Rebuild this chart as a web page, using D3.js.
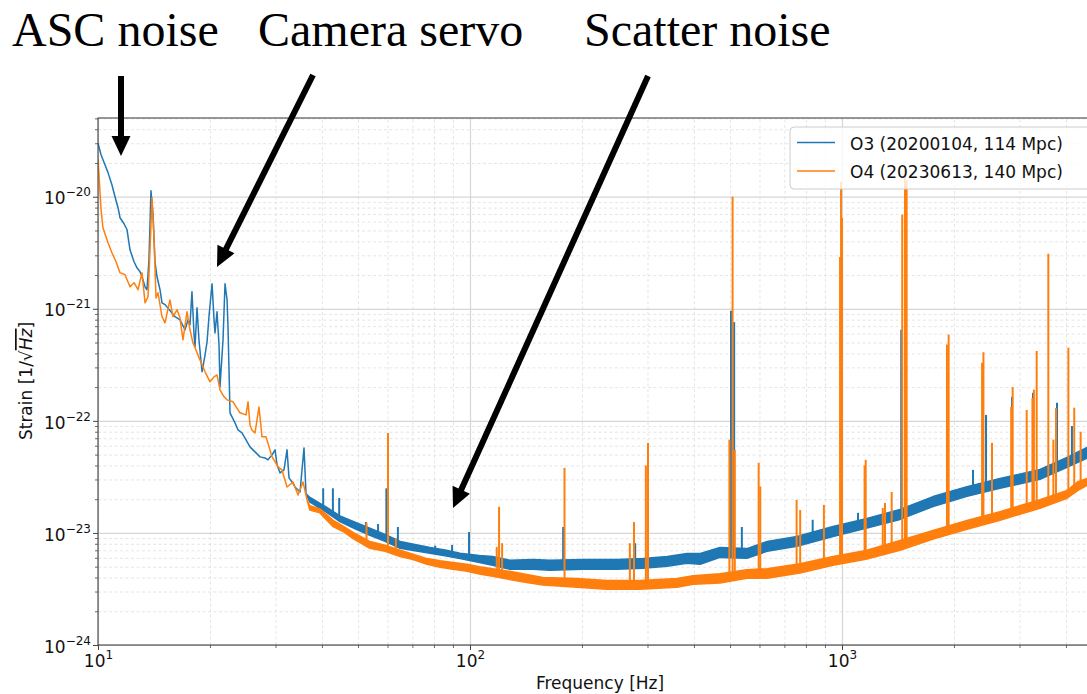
<!DOCTYPE html>
<html>
<head>
<meta charset="utf-8">
<script src="https://cdn.jsdelivr.net/npm/d3@7"></script>
<style>
  body { margin: 0; background: #fff; }
  svg { display: block; font-family: "DejaVu Sans", sans-serif; }
</style>
</head>
<body>
<svg id="chart" width="1087" height="694"></svg>
<script>
// [Hz, strain] for the traced line, [Hz, low, high] where the trace turns into a noisy band
var o3Trace = [
  [10, 3.0e-20], [10.19, 2.37e-20], [10.44, 1.93e-20], [10.64, 1.64e-20], [10.90, 1.28e-20],
  [11.11, 1.0e-20], [11.32, 7.98e-21], [11.46, 6.49e-21], [11.75, 5.74e-21], [11.97, 5.07e-21],
  [12.19, 3.36e-21], [12.50, 2.63e-21], [12.73, 2.32e-21], [12.97, 2.14e-21], [13.13, 1.93e-21],
  [13.38, 1.57e-21], [13.54, 1.48e-21], [13.71, 2.74e-21], [13.88, 1.13e-20], [14.06, 6.91e-21],
  [14.23, 2.63e-21], [14.41, 1.93e-21], [14.68, 1.48e-21], [14.86, 1.13e-21], [15.14, 1.09e-21],
  [15.32, 1.04e-21], [15.71, 9.4e-22], [16.11, 8.5e-22], [16.61, 7.97e-22], [17.14, 6.5e-22],
  [17.46, 7.97e-22], [17.67, 7.2e-22], [17.89, 1.42e-21], [18.12, 5.86e-22], [18.23, 4.58e-22],
  [18.46, 1.02e-21], [18.68, 5.29e-22], [19.04, 2.74e-22], [19.40, 3.88e-22], [19.64, 5.07e-22],
  [19.89, 8.8e-22], [20.26, 1.67e-21], [20.51, 7.97e-22], [20.63, 6.1e-22], [20.89, 9.4e-22],
  [21.15, 4.77e-22], [21.28, 2.01e-22], [21.68, 5.29e-22], [21.95, 1.67e-21], [22.23, 1.2e-21],
  [22.36, 6.9e-22], [22.64, 1.18e-22], [23.35, 9.6e-23], [23.79, 8.3e-23], [24.38, 7.8e-23],
  [25.0, 6.77e-23], [25.62, 5.86e-23], [26.43, 5.29e-23], [27.26, 4.77e-23], [28.12, 4.67e-23],
  [28.64, 4.49e-23], [29.37, 4.97e-23], [29.92, 5.51e-23], [30.29, 4.05e-23], [30.86, 3.43e-23],
  [31.62, 3.65e-23], [32.22, 5.51e-23], [32.62, 3.10e-23], [33.23, 2.85e-23], [33.85, 2.57e-23],
  [34.92, 2.32e-23], [35.79, 5.74e-23], [36.24, 2.23e-23],
  [37.14, 1.88e-23, 2.07e-23], [41.0, 1.54e-23, 1.71e-23], [44.7, 1.26e-23, 1.42e-23],
  [49.1, 1.09e-23, 1.25e-23], [53.8, 9.5e-24, 1.10e-23], [59.1, 8.4e-24, 9.7e-24],
  [64.9, 7.3e-24, 8.4e-24], [71.1, 6.95e-24, 7.9e-24], [78.1, 6.6e-24, 7.4e-24],
  [85.7, 6.25e-24, 7.05e-24], [94.0, 5.9e-24, 6.6e-24], [106, 5.45e-24, 6.3e-24],
  [115, 5.15e-24, 6.15e-24], [128, 4.75e-24, 5.7e-24], [148, 4.75e-24, 5.8e-24],
  [164, 4.65e-24, 5.7e-24], [201, 4.75e-24, 5.8e-24], [248, 4.75e-24, 5.8e-24],
  [292, 4.85e-24, 5.9e-24], [339, 5.05e-24, 6.15e-24], [383, 5.35e-24, 6.55e-24],
  [416, 5.25e-24, 6.55e-24], [470, 6.05e-24, 7.4e-24], [555, 5.95e-24, 7.25e-24],
  [629, 6.85e-24, 8.4e-24], [757, 7.6e-24, 9.3e-24], [946, 9.3e-24, 1.14e-23],
  [1160, 1.10e-23, 1.34e-23], [1432, 1.32e-23, 1.62e-23], [1757, 1.72e-23, 2.11e-23],
  [2168, 2.12e-23, 2.59e-23], [2659, 2.50e-23, 3.06e-23], [3406, 3.01e-23, 3.68e-23],
  [4026, 3.86e-23, 4.71e-23], [4556, 4.64e-23, 5.78e-23]
];
// spectral lines [Hz, peak strain]
var o3Lines = [
  [40.3, 2.5e-23], [42.8, 2.5e-23], [44.5, 2.05e-23], [52.5, 1.25e-23], [56.6, 1.2e-23],
  [59.6, 2.5e-23], [64.0, 1.13e-23], [80.6, 7.7e-24], [89.5, 7.8e-24], [99.4, 1.02e-23],
  [178, 1.13e-23], [278, 8.1e-24], [503, 9.6e-22], [513, 7.6e-22], [538, 1.13e-23],
  [834, 1.31e-23], [1104, 1.51e-23], [1443, 6.5e-22], [1916, 8.7e-23], [2250, 3.65e-23],
  [2439, 1.13e-22], [2864, 1.64e-22], [3262, 1.78e-22], [3784, 1.45e-22], [4150, 9.0e-23]
];

var o4Trace = [
  [10, 2.14e-20], [10.06, 1.57e-20], [10.19, 7.66e-21], [10.31, 5.29e-21], [10.64, 3.88e-21],
  [10.90, 3.16e-21], [11.18, 2.63e-21], [11.46, 2.10e-21], [11.82, 2.01e-21], [12.19, 1.57e-21],
  [12.50, 1.71e-21], [12.81, 1.48e-21], [13.13, 2.10e-21], [13.38, 1.13e-21], [13.63, 1.28e-21],
  [13.80, 3.36e-21], [13.97, 9.8e-21], [14.15, 4.13e-21], [14.32, 1.25e-21], [14.50, 1.39e-21],
  [14.86, 8.5e-22], [15.14, 7.5e-22], [15.61, 1.2e-21], [15.91, 8.5e-22], [16.31, 9.8e-22],
  [16.61, 8.3e-22], [16.92, 5.29e-22], [17.35, 9.4e-22], [17.67, 6.5e-22], [18.0, 4.97e-22],
  [18.80, 3.5e-22], [19.40, 2.74e-22], [20.0, 2.23e-22], [20.51, 2.47e-22], [20.89, 2.57e-22],
  [21.28, 1.89e-22], [21.82, 1.64e-22], [22.23, 1.54e-22], [23.06, 1.48e-22], [24.08, 1.18e-22],
  [25.0, 1.13e-22], [25.31, 1.48e-22], [25.62, 9.2e-23], [25.94, 8.3e-23], [26.43, 7.8e-23],
  [27.09, 1.33e-22], [27.60, 7.2e-23], [28.29, 7.2e-23], [29.37, 4.77e-23], [30.48, 3.88e-23],
  [31.23, 3.65e-23], [32.22, 2.57e-23], [33.44, 2.85e-23], [34.49, 2.18e-23], [35.57, 2.85e-23],
  [36.47, 1.97e-23],
  [37.1, 1.60e-23, 1.75e-23], [39.5, 1.51e-23, 1.64e-23], [42.8, 1.14e-23, 1.30e-23],
  [45.6, 1.03e-23, 1.15e-23], [48.5, 8.9e-24, 1.01e-23], [53.8, 7.3e-24, 8.4e-24],
  [59.1, 6.85e-24, 7.75e-24], [64.9, 6.15e-24, 7.0e-24], [70.3, 5.8e-24, 6.45e-24],
  [76.6, 5.25e-24, 5.9e-24], [83.1, 4.95e-24, 5.65e-24], [90.0, 4.75e-24, 5.45e-24],
  [98.2, 4.55e-24, 5.25e-24], [106, 4.3e-24, 5.0e-24], [115, 4.1e-24, 4.8e-24],
  [130, 3.8e-24, 4.5e-24], [142, 3.62e-24, 4.25e-24], [157, 3.43e-24, 4.0e-24],
  [194, 3.28e-24, 3.92e-24], [233, 3.15e-24, 3.76e-24], [286, 3.15e-24, 3.76e-24],
  [360, 3.28e-24, 3.92e-24], [398, 3.48e-24, 4.15e-24], [470, 3.58e-24, 4.33e-24],
  [555, 3.95e-24, 4.7e-24], [629, 3.95e-24, 4.8e-24], [771, 4.38e-24, 5.32e-24],
  [946, 5.15e-24, 6.15e-24], [1160, 5.82e-24, 6.96e-24], [1432, 7.0e-24, 8.55e-24],
  [1757, 8.8e-24, 1.05e-23], [2168, 1.08e-23, 1.29e-23], [2659, 1.30e-23, 1.55e-23],
  [3406, 1.66e-23, 1.98e-23], [4026, 2.04e-23, 2.39e-23], [4310, 2.40e-23, 2.87e-23],
  [4556, 2.65e-23, 3.06e-23]
];
var o4Lines = [
  [52.7, 1.23e-23], [60.2, 7.8e-23], [63.2, 9.0e-24], [118, 7.5e-24], [119.7, 1.71e-23],
  [122, 8.1e-24], [179.5, 3.81e-23], [269, 8.1e-24], [276, 1.25e-23], [297, 4.0e-23],
  [301, 6.36e-23], [498, 6.8e-23], [508, 1.0e-20], [515, 5.5e-23], [597, 4.22e-23],
  [603, 2.6e-23], [755, 1.97e-23], [772, 1.6e-23], [894, 1.78e-23], [988, 2.9e-21],
  [994, 1.36e-20], [1000, 6.5e-21], [1150, 4.0e-23], [1158, 4.49e-23], [1287, 1.67e-23],
  [1305, 1.85e-23], [1360, 2.32e-23], [1452, 6.9e-21], [1477, 1.9e-20], [1492, 1.4e-20],
  [1915, 4.8e-22], [1935, 5.9e-22], [2380, 3.3e-22], [2400, 4.1e-22], [2531, 6.36e-23],
  [2850, 1.33e-22], [2876, 2.0e-22], [3137, 1.25e-22], [3250, 1.6e-22], [3280, 1.9e-22],
  [3337, 4.2e-22], [3586, 3.1e-21], [3700, 6.8e-23], [3761, 1.3e-22], [4060, 4.5e-22],
  [4210, 1.31e-22], [4380, 8.0e-23]
];

var seriesNames = ["O3 (20200104, 114 Mpc)", "O4 (20230613, 140 Mpc)"];
var seriesColors = ["#1f77b4", "#ff7f0e"];
var xTickValues = [10, 100, 1000];
var yTickValues = [1e-24, 1e-23, 1e-22, 1e-21, 1e-20];
var noteTexts = ["ASC noise", "Camera servo", "Scatter noise"];

var width = 1087, height = 694;
var plotLeft = 98, plotTop = 118, plotBottom = 645,
    plotRight = 98 + 372 * Math.log10(500);
var plotH = plotBottom - plotTop, plotW = plotRight - plotLeft;

var x = d3.scaleLog().domain([10, 5000]).range([plotLeft, plotRight]);
var y = d3.scaleLog().domain([1e-24, 5.04e-20]).range([plotBottom, plotTop]);

var svg = d3.select("#chart");
svg.append("rect").attr("width", width).attr("height", height).attr("fill", "#fff");

var xMinor = [], yMinor = [];
[10, 100, 1000].forEach(function(d) {
  for (var m = 2; m < 10; m++) if (m * d <= 5000) xMinor.push(m * d);
});
[-24, -23, -22, -21, -20].forEach(function(e) {
  for (var m = 2; m < 10; m++) {
    var v = m * Math.pow(10, e);
    if (v <= 5.04e-20) yMinor.push(v);
  }
});

// gridlines
function grid(axis, tr, vals, size, minor) {
  var g = svg.append("g")
      .attr("transform", tr)
      .call(axis.tickValues(vals).tickSize(size).tickSizeOuter(0).tickFormat(""));
  g.select(".domain").remove();
  g.selectAll("line")
      .attr("stroke", minor ? "#dedede" : "#d6d6d6")
      .attr("stroke-width", minor ? 0.8 : 1.2)
      .attr("stroke-dasharray", minor ? "3,2.5" : null);
}
grid(d3.axisBottom(x), "translate(0," + plotBottom + ")", xMinor, -plotH, true);
grid(d3.axisLeft(y), "translate(" + plotLeft + ",0)", yMinor, -plotW, true);
grid(d3.axisBottom(x), "translate(0," + plotBottom + ")", xTickValues, -plotH, false);
grid(d3.axisLeft(y), "translate(" + plotLeft + ",0)", yTickValues, -plotW, false);

// curves
svg.append("clipPath").attr("id", "plotclip")
  .append("rect").attr("x", plotLeft).attr("y", plotTop).attr("width", plotW).attr("height", plotH);

var area = d3.area()
    .x(function(d) { return x(d[0]); })
    .y0(function(d) { return y(d[1]); })
    .y1(function(d) { return y(d.length > 2 ? d[2] : d[1]); });

function footAt(trace, f) {
  var i = d3.bisector(function(d) { return d[0]; }).right(trace, f) - 1;
  i = Math.max(0, Math.min(trace.length - 2, i));
  var a = trace[i], b = trace[i + 1];
  var t = (Math.log(f) - Math.log(a[0])) / (Math.log(b[0]) - Math.log(a[0]));
  return Math.exp(Math.log(a[1]) + t * (Math.log(b[1]) - Math.log(a[1])));
}

var curves = svg.append("g").attr("clip-path", "url(#plotclip)");
[[o3Trace, o3Lines], [o4Trace, o4Lines]].forEach(function(s, k) {
  var g = curves.append("g");
  g.append("path")
      .datum(s[0])
      .attr("d", area)
      .attr("fill", seriesColors[k])
      .attr("stroke", seriesColors[k])
      .attr("stroke-width", 1.5)
      .attr("stroke-linejoin", "round");
  g.selectAll(".spike")
      .data(s[1])
    .enter().append("line")
      .attr("class", "spike")
      .attr("x1", function(d) { return x(d[0]); })
      .attr("x2", function(d) { return x(d[0]); })
      .attr("y1", function(d) { return y(footAt(s[0], d[0])); })
      .attr("y2", function(d) { return y(d[1]); })
      .attr("stroke", seriesColors[k])
      .attr("stroke-width", 2);
});

// frame
svg.append("rect")
    .attr("x", plotLeft).attr("y", plotTop).attr("width", plotW).attr("height", plotH)
    .attr("fill", "none").attr("stroke", "#444").attr("stroke-width", 1.1);

// ticks and tick labels
function superLabel(sel, expOf) {
  sel.selectAll(".tick text").each(function(d) {
    var t = d3.select(this).text("");
    t.append("tspan").text("10");
    t.append("tspan").attr("dy", -8).attr("font-size", 12).text(expOf(d));
  });
}
var expText = function(d) { return String(Math.round(Math.log10(d))).replace("-", "\u2212"); };

var xAxis = svg.append("g")
    .attr("transform", "translate(0," + plotBottom + ")")
    .call(d3.axisBottom(x).tickValues(xTickValues).tickSize(5).tickPadding(5).tickSizeOuter(0))
    .attr("font-family", "DejaVu Sans, sans-serif").attr("font-size", 17);
xAxis.select(".domain").remove();
xAxis.selectAll("line").attr("stroke", "#444");
xAxis.selectAll("text").attr("fill", "#111");
superLabel(xAxis, expText);

var xMinorAxis = svg.append("g")
    .attr("transform", "translate(0," + plotBottom + ")")
    .call(d3.axisBottom(x).tickValues(xMinor).tickSize(3).tickFormat("").tickSizeOuter(0));
xMinorAxis.select(".domain").remove();
xMinorAxis.selectAll("line").attr("stroke", "#444").attr("stroke-width", 0.8);

var yAxis = svg.append("g")
    .attr("transform", "translate(" + plotLeft + ",0)")
    .call(d3.axisLeft(y).tickValues(yTickValues).tickSize(5).tickPadding(2).tickSizeOuter(0))
    .attr("font-family", "DejaVu Sans, sans-serif").attr("font-size", 17);
yAxis.select(".domain").remove();
yAxis.selectAll("line").attr("stroke", "#444");
yAxis.selectAll("text").attr("fill", "#111").attr("dy", "0.42em");
superLabel(yAxis, expText);

var yMinorAxis = svg.append("g")
    .attr("transform", "translate(" + plotLeft + ",0)")
    .call(d3.axisLeft(y).tickValues(yMinor).tickSize(3).tickFormat("").tickSizeOuter(0));
yMinorAxis.select(".domain").remove();
yMinorAxis.selectAll("line").attr("stroke", "#444").attr("stroke-width", 0.8);

// axis titles
svg.append("text")
    .attr("x", (plotLeft + plotRight) / 2).attr("y", 689)
    .attr("text-anchor", "middle").attr("font-size", 17).attr("fill", "#111")
    .text("Frequency [Hz]");

var yl = svg.append("text")
    .attr("transform", "translate(32,381) rotate(-90)")
    .attr("text-anchor", "middle").attr("font-size", 17).attr("fill", "#111");
yl.append("tspan").text("Strain [1/");
yl.append("tspan").text("\u221A");
yl.append("tspan").attr("font-style", "italic").style("text-decoration", "overline").text("Hz");
yl.append("tspan").text("]");

// legend
var legend = svg.append("g");
legend.append("rect")
    .attr("x", 790).attr("y", 127).attr("width", 320).attr("height", 62).attr("rx", 4)
    .attr("fill", "#fff").attr("fill-opacity", 0.8).attr("stroke", "#cccccc");
seriesNames.forEach(function(name, i) {
  legend.append("line")
      .attr("x1", 797).attr("x2", 835)
      .attr("y1", 142.5 + i * 28.5).attr("y2", 142.5 + i * 28.5)
      .attr("stroke", seriesColors[i]).attr("stroke-width", 1.6);
  legend.append("text")
      .attr("x", 850).attr("y", 150 + i * 28)
      .attr("font-size", 17).attr("fill", "#111")
      .text(name);
});

// annotations laid over the figure
var notePos = [[12, 121, 76, 121, 156], [258, 313, 75, 217, 267], [584, 648, 76, 453, 508]];
noteTexts.forEach(function(t, i) {
  var p = notePos[i];
  svg.append("text")
      .attr("x", p[0]).attr("y", 46)
      .attr("font-family", "Liberation Serif, Times New Roman, serif")
      .attr("font-size", 48).attr("fill", "#000")
      .text(t);
  var dx = p[3] - p[1], dy = p[4] - p[2], len = Math.sqrt(dx * dx + dy * dy);
  var ux = dx / len, uy = dy / len, hl = 20, hw = 9.5;
  var bx = p[3] - ux * hl, by = p[4] - uy * hl;
  svg.append("line")
      .attr("x1", p[1]).attr("y1", p[2]).attr("x2", bx + ux * 2).attr("y2", by + uy * 2)
      .attr("stroke", "#000").attr("stroke-width", 6);
  svg.append("path")
      .attr("d", "M" + p[3] + "," + p[4] +
                 "L" + (bx - uy * hw) + "," + (by + ux * hw) +
                 "L" + (bx + uy * hw) + "," + (by - ux * hw) + "Z")
      .attr("fill", "#000");
});
</script>
</body>
</html>
